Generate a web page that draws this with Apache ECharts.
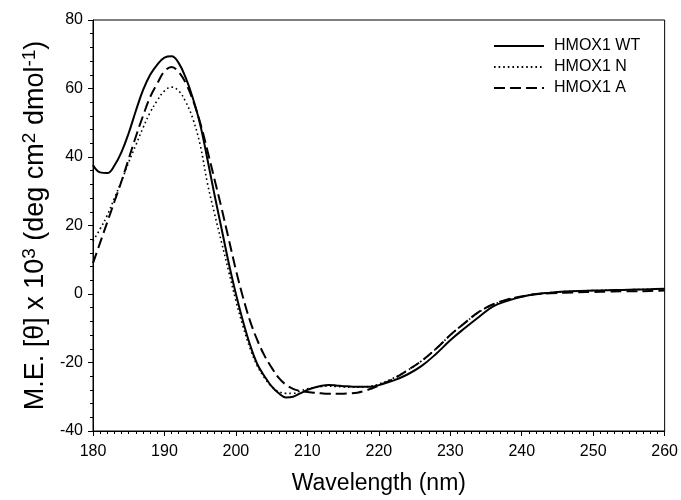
<!DOCTYPE html>
<html>
<head>
<meta charset="utf-8">
<script src="https://cdn.jsdelivr.net/npm/echarts@6/dist/echarts.min.js"></script>
<style>html,body{margin:0;padding:0;background:#fff}#c{width:681px;height:500px}</style>
</head>
<body>
<div id="c"></div>
<script>
const wavelengths = [180,181,182,183,184,185,186,187,188,189,190,191,192,193,194,195,196,197,198,199,200,201,202,203,204,205,206,207,208,209,210,211,212,213,214,215,216,217,218,219,220,222,224,226,228,230,232,234,236,238,240,242,244,246,248,250,252,254,256,258,260];
const hmoxWT = [37.7,35.5,35.3,37.5,41.5,47,53.5,59.5,64,67,69,69.4,67.4,63,57,49.5,39.5,29,19,9,0,-8,-15,-20.5,-24,-27,-29,-30.2,-30,-29,-28,-27.3,-26.8,-26.6,-26.7,-26.9,-27,-27.1,-27.1,-27.1,-26.6,-25.3,-23.5,-21,-17.5,-13.5,-10,-6.7,-3.6,-2,-0.8,0,0.4,0.7,0.9,1.0,1.1,1.2,1.3,1.4,1.5];
const hmoxN = [15.5,19,23,28,33,38.5,43.5,48.5,53,56.5,59.3,60.4,59.3,56,51,43.5,32.5,23.5,15,6.5,-2,-9.5,-16,-21,-24.5,-27,-28.5,-29,-29,-28.3,-27.7,-27.3,-27,-26.9,-27,-27.1,-27.2,-27.2,-27.1,-26.9,-26.3,-24.6,-22.3,-19.5,-16,-12,-8.5,-5.3,-3.1,-1.7,-0.7,0,0.4,0.7,0.9,1.0,1.1,1.2,1.3,1.4,1.5];
const hmoxA = [9,15,21,27,33,39.5,46,52,57.5,61.5,65,66.3,64.8,61.5,56.5,50,42,33.5,25,16,7,-1,-8,-13.5,-18,-21.5,-24.5,-26.5,-27.7,-28.3,-28.6,-28.8,-29,-29.1,-29.1,-29.1,-29,-28.8,-28.3,-27.6,-26.7,-24.8,-22.3,-19.5,-16,-12,-8.5,-5.2,-3.0,-1.6,-0.7,-0.1,0.2,0.4,0.5,0.6,0.7,0.8,0.8,0.9,1.0];
const seriesNames = ['HMOX1 WT','HMOX1 N','HMOX1 A'];
const xTicks = {min:180, max:260, step:10};
const yTicks = {min:-40, max:80, step:20};

function pairs(ys){ return wavelengths.map((x,i)=>[x, ys[i]]); }

const FONT = 'Liberation Sans, Arial, sans-serif';
const chart = echarts.init(document.getElementById('c'), null, {renderer:'canvas'});
chart.setOption({
  animation:false,
  backgroundColor:'#fff',
  grid:{left:93, top:20, right:16, bottom:69, show:true, borderColor:'#000', borderWidth:1, containLabel:false},
  legend:{
    orient:'vertical', left:493, top:38, padding:0, itemWidth:50, itemHeight:14, itemGap:5,
    textStyle:{fontFamily:FONT, fontSize:16, color:'#000', padding:[0,0,0,5]},
    itemStyle:{color:'rgba(0,0,0,0)', borderColor:'rgba(0,0,0,0)', borderWidth:0},
    data:seriesNames
  },
  xAxis:{
    type:'value', min:xTicks.min, max:xTicks.max, interval:xTicks.step,
    name:'Wavelength (nm)', nameLocation:'middle', nameGap:41,
    nameTextStyle:{fontFamily:FONT, fontSize:23, color:'#000'},
    axisLine:{show:true, onZero:false, lineStyle:{color:'#000', width:1}},
    axisTick:{show:true, inside:false, length:5, lineStyle:{color:'#000'}},
    minorTick:{show:true, splitNumber:10, length:3, lineStyle:{color:'#000'}},
    axisLabel:{fontFamily:FONT, fontSize:16, color:'#000', margin:13},
    splitLine:{show:false}
  },
  yAxis:{
    type:'value', min:yTicks.min, max:yTicks.max, interval:yTicks.step,
    name:'{n|M.E. [θ] x 10}{s|3}{n| (deg cm}{s|2}{n| dmol}{s|-1}{n|)}',
    nameLocation:'middle', nameGap:42, nameRotate:90,
    nameTextStyle:{fontFamily:FONT, color:'#000',
      rich:{
        n:{fontFamily:FONT, fontSize:27, color:'#000'},
        s:{fontFamily:FONT, fontSize:19, color:'#000', padding:[0,0,12,0]}
      }},
    axisLine:{show:true, onZero:false, lineStyle:{color:'#000', width:1}},
    axisTick:{show:true, inside:false, length:5, lineStyle:{color:'#000'}},
    minorTick:{show:true, splitNumber:5, length:3, lineStyle:{color:'#000'}},
    axisLabel:{fontFamily:FONT, fontSize:16, color:'#000', margin:10},
    splitLine:{show:false}
  },
  series:[
    {name:seriesNames[0], type:'line', data:pairs(hmoxWT), smooth:0.4, symbol:'none',
     lineStyle:{color:'#000', width:2, type:'solid'}, itemStyle:{color:'#000'}},
    {name:seriesNames[1], type:'line', data:pairs(hmoxN), smooth:0.4, symbol:'none',
     lineStyle:{color:'#000', width:1.6, type:[1.6,3]}, itemStyle:{color:'#000'}},
    {name:seriesNames[2], type:'line', data:pairs(hmoxA), smooth:0.4, symbol:'none',
     lineStyle:{color:'#000', width:2, type:[11,5]}, itemStyle:{color:'#000'}}
  ]
});
</script>
</body>
</html>
